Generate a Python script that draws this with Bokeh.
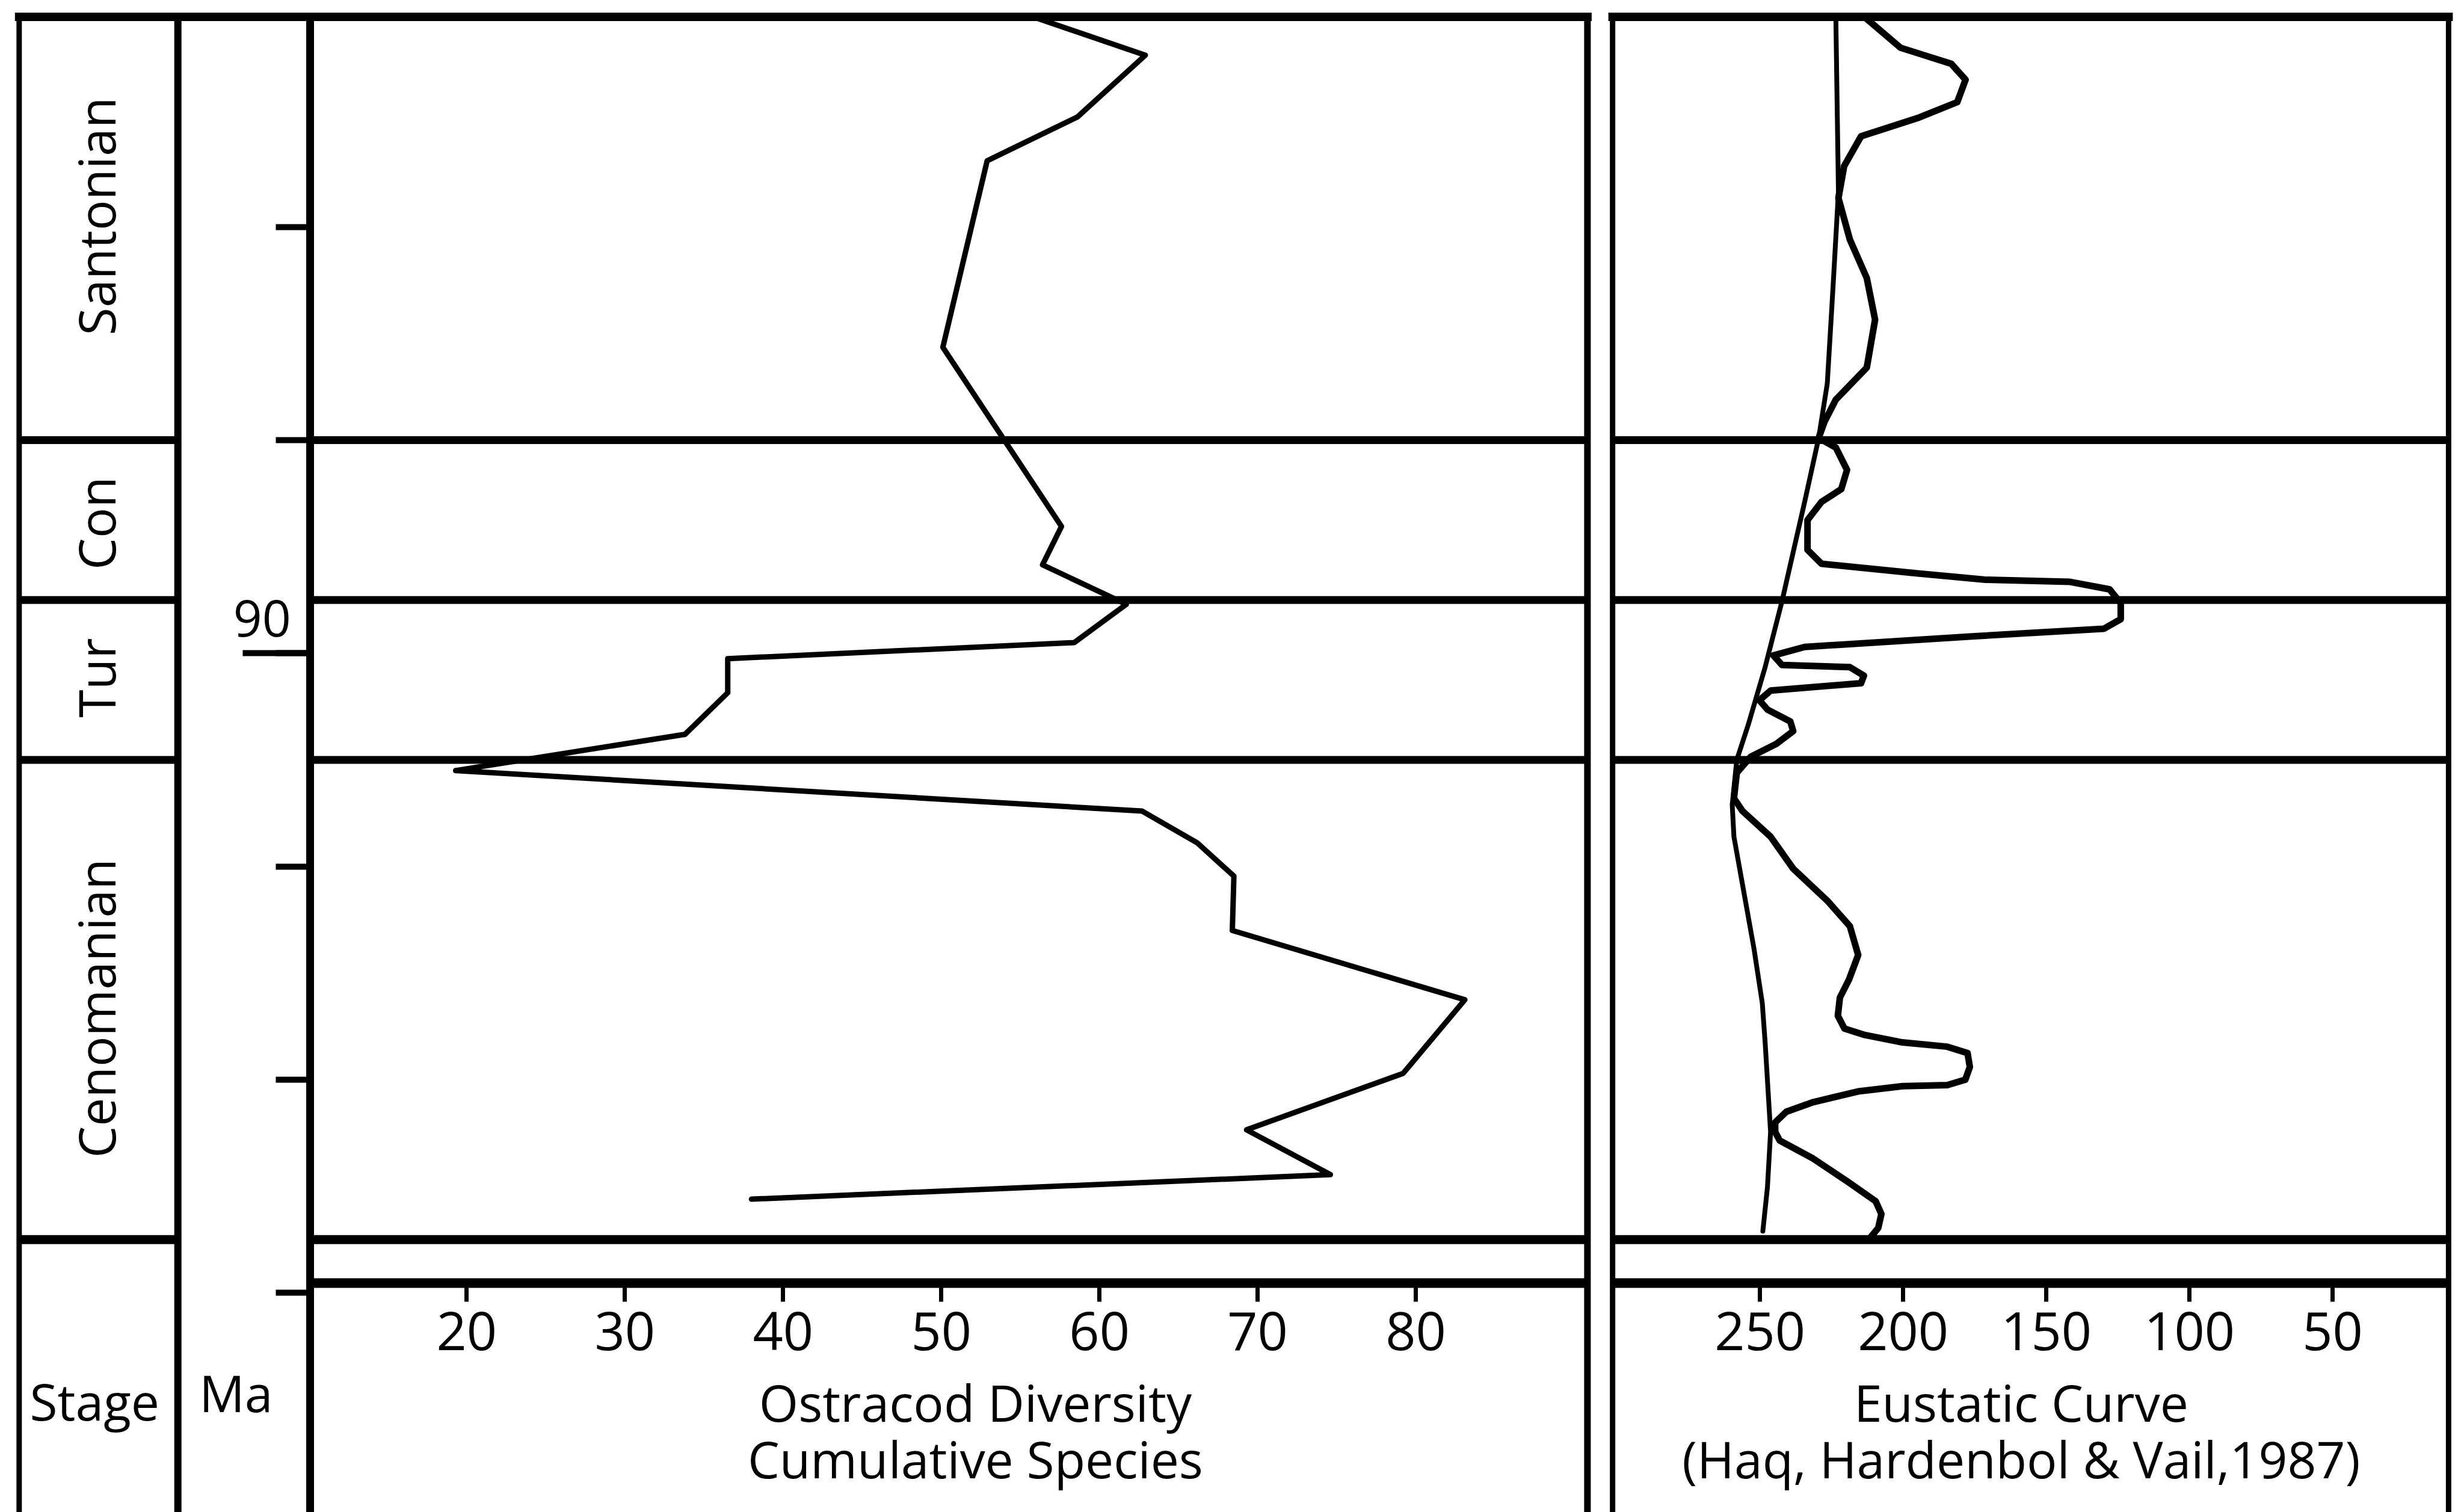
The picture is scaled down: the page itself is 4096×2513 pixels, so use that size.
import math
from bokeh.plotting import figure
from bokeh.models import Range1d, LinearAxis, FixedTicker
from bokeh.core.properties import value
from bokeh.embed import file_html
from bokeh.resources import INLINE

# ---------------- data ----------------
stages = ["Santonian", "Con", "Tur", "Cenomanian"]
stage_top_ma = [84.03, 88.0, 89.5, 91.0]
stage_base_ma = [88.0, 89.5, 91.0, 95.5]
stage_label_ma = [85.9, 88.78, 90.23, 93.33]

ma_ticks = [86, 88, 90, 92, 94, 96]
ma_label = 90

div_ticks = [20, 30, 40, 50, 60, 70, 80]
eus_ticks = [250, 200, 150, 100, 50]

div_ma = [84.03, 84.39, 84.97, 85.38, 87.13, 88.81, 89.17, 89.54, 89.90, 90.05,
          90.37, 90.76, 91.10, 91.48, 91.78, 92.09, 92.60, 93.25, 93.94, 94.47,
          94.89, 95.12]
div_species = [55.8, 62.9, 58.6, 52.9, 50.1, 57.6, 56.4, 61.7, 58.4, 36.5,
               36.5, 33.8, 19.3, 62.7, 66.2, 68.5, 68.4, 83.1, 79.2, 69.3,
               74.6, 38.0]

eus_long_ma = [84.05, 85.67, 86.57, 87.47, 87.98, 88.58, 89.51, 90.13, 90.67, 91.00,
               91.42, 91.72, 92.17, 92.77, 93.28, 93.65, 94.49, 95.01, 95.42]
eus_long_m = [223.5, 222.6, 224.5, 226.5, 229.5, 234.4, 242.3, 248.2, 254.1, 258.1,
              259.7, 259.1, 256.1, 252.1, 249.2, 248.2, 246.3, 247.4, 249.0]

eus_short_ma = [84.05, 84.32, 84.47, 84.62, 84.83, 84.98, 85.15, 85.43, 85.73, 86.12,
                86.48, 86.87, 87.32, 87.62, 87.83, 87.98, 88.07, 88.28, 88.46, 88.58,
                88.75, 89.03, 89.16, 89.25, 89.31, 89.33, 89.40, 89.53, 89.68, 89.77,
                89.84, 89.94, 90.02, 90.11, 90.13, 90.21, 90.28, 90.35, 90.44, 90.53,
                90.64, 90.73, 90.85, 90.97, 91.12, 91.36, 91.48, 91.72, 92.02, 92.32,
                92.56, 92.83, 93.06, 93.23, 93.40, 93.52, 93.58, 93.65, 93.69, 93.75,
                93.88, 94.00, 94.05, 94.06, 94.11, 94.21, 94.30, 94.40, 94.49, 94.57,
                94.74, 94.95, 95.14, 95.26, 95.39, 95.47]
eus_short_m = [212.7, 200.9, 183.2, 178.2, 181.1, 195.0, 214.7, 220.6, 222.6, 218.6,
               212.7, 209.8, 212.7, 223.5, 227.5, 229.5, 223.5, 219.6, 221.6, 228.5,
               233.4, 233.4, 228.5, 195.0, 171.3, 141.7, 127.9, 124.0, 124.0, 129.9,
               175.2, 234.4, 245.3, 242.3, 218.6, 213.7, 214.7, 246.3, 250.2, 247.3,
               239.4, 238.4, 244.3, 253.2, 258.1, 259.1, 256.1, 246.3, 238.4, 226.5,
               218.6, 215.7, 218.9, 222.1, 222.8, 220.5, 213.4, 200.2, 184.6, 177.5,
               176.7, 178.3, 184.6, 200.2, 215.8, 231.4, 240.8, 244.7, 244.7, 243.1,
               231.4, 219.7, 209.6, 207.6, 208.7, 211.1]

div_title = ["Ostracod Diversity", "Cumulative Species"]
eus_title = ["Eustatic Curve", "(Haq, Hardenbol & Vail,1987)"]

# ---------------- layout ----------------
W, H = 4096, 2513
REF_W, REF_H = 1568.0, 962.0          # layout units
S = W / REF_W                          # px per layout unit

MA_Y0, MA_K = 483.3, 67.83             # layout y of 91 Ma, layout units per Ma
def ma_at(y):
    return 91 + (y - MA_Y0) / MA_K
MA_TOP, MA_BOT = ma_at(0), ma_at(REF_H)
MA_BORDER = ma_at(10.5)
MA_AXIS = ma_at(816)

DIV_X0, DIV_K = 598.8, 10.066          # layout x of 50 species, units per species
EUS_X0, EUS_K = 1302.0, 1.822          # layout x of 150 m, units per m (reversed)
def div_at(x):
    return 50 + (x - DIV_X0) / DIV_K
def eus_at(x):
    return 150 - (x - EUS_X0) / EUS_K

X_OUT, X_STAGE, X_MA = 12, 113, 197
X_DIV_R, X_EUS_L, X_EUS_R = 1010, 1026, 1558

TXT_SHIFT = 14.0                       # baseline correction, layout units

FONT = "Open Sans"
FS = "84px"
FS_TICK = "88px"
BLACK = "#000000"

p = figure(width=W, height=H, output_backend="svg", toolbar_location=None,
           x_range=Range1d(0, REF_W), y_range=Range1d(MA_BOT, MA_TOP),
           x_axis_location=None, y_axis_location=None, min_border=0, title=None)
p.extra_x_ranges = {"div": Range1d(div_at(0), div_at(REF_W)),
                    "eus": Range1d(eus_at(0), eus_at(REF_W))}
p.extra_y_ranges = {"lay": Range1d(REF_H, 0)}
p.outline_line_color = None
p.background_fill_color = "white"
p.border_fill_color = "white"
p.xgrid.visible = False
p.ygrid.visible = False

# vertical frame lines
vx = [X_OUT, X_STAGE, X_DIV_R, X_EUS_L, X_EUS_R]
vw = [9, 12, 11, 9, 9]
p.segment(x0=vx, y0=[MA_BORDER] * len(vx), x1=vx, y1=[MA_BOT + 1] * len(vx),
          line_color=BLACK, line_width=vw, line_cap="square")

# top borders
p.segment(x0=[X_OUT, X_EUS_L], y0=[MA_BORDER] * 2, x1=[X_DIV_R, X_EUS_R], y1=[MA_BORDER] * 2,
          line_color=BLACK, line_width=14, line_cap="square")

# stage boundaries across the three columns
for (a, b) in [(X_OUT, X_STAGE), (X_MA, X_DIV_R), (X_EUS_L, X_EUS_R)]:
    n = len(stage_base_ma)
    p.segment(x0=[a] * n, y0=stage_base_ma, x1=[b] * n, y1=stage_base_ma,
              line_color=BLACK, line_width=[13, 13, 13, 15])

# Ma axis (ticks only, the 90 label drawn above its tick)
ma_axis = LinearAxis(fixed_location=X_MA, ticker=FixedTicker(ticks=ma_ticks),
                     bounds=(MA_BORDER, MA_BOT + 1),
                     axis_line_width=13, axis_line_color=BLACK,
                     major_tick_out=round(22 * S), major_tick_in=0,
                     major_tick_line_width=10, major_tick_line_color=BLACK,
                     minor_tick_line_color=None,
                     major_label_overrides={t: "" for t in ma_ticks})
p.add_layout(ma_axis, "left")
ma_axis90 = LinearAxis(fixed_location=X_MA, ticker=FixedTicker(ticks=[ma_label]),
                       axis_line_color=None,
                       major_tick_out=round(43 * S), major_tick_in=0,
                       major_tick_line_width=10, major_tick_line_color=BLACK,
                       minor_tick_line_color=None,
                       major_label_overrides={ma_label: ""})
p.add_layout(ma_axis90, "left")
p.text(x=[185], y=[ma_label - (8.5 + TXT_SHIFT) / MA_K], text=[str(ma_label)],
       text_align="right", text_baseline="alphabetic",
       text_font=value(FONT), text_font_size=FS, text_color=BLACK)

# bottom axes
def bottom_axis(rng, ticks, bounds):
    ax = LinearAxis(x_range_name=rng, fixed_location=MA_AXIS,
                    ticker=FixedTicker(ticks=ticks), bounds=bounds,
                    axis_line_width=16, axis_line_color=BLACK,
                    major_tick_out=round(12 * S), major_tick_in=0,
                    major_tick_line_width=7, major_tick_line_color=BLACK,
                    minor_tick_line_color=None,
                    major_label_standoff=18,
                    major_label_text_font=FONT, major_label_text_font_size=FS_TICK,
                    major_label_text_color=BLACK)
    p.add_layout(ax, "below")
    return ax

bottom_axis("div", div_ticks, (div_at(X_MA), div_at(X_DIV_R)))
bottom_axis("eus", eus_ticks, (eus_at(X_EUS_R), eus_at(X_EUS_L)))

# data curves
p.line(x=div_species, y=div_ma, x_range_name="div", line_color=BLACK,
       line_width=9, line_join="round", line_cap="round")
p.line(x=eus_long_m, y=eus_long_ma, x_range_name="eus", line_color=BLACK,
       line_width=8, line_join="round", line_cap="round")
p.line(x=eus_short_m, y=eus_short_ma, x_range_name="eus", line_color=BLACK,
       line_width=11, line_join="round", line_cap="round")

# stage names (rotated)
p.text(x=[75 - TXT_SHIFT] * len(stages), y=stage_label_ma, text=stages, angle=math.pi / 2,
       text_align="center", text_baseline="alphabetic",
       text_font=value(FONT), text_font_size=FS, text_color=BLACK)

# column headers and panel titles (layout units)
p.text(x=[60, 150], y=[905 - TXT_SHIFT, 900 - TXT_SHIFT], text=["Stage", "Ma"],
       y_range_name="lay", text_align="center", text_baseline="alphabetic",
       text_font=value(FONT), text_font_size=FS, text_color=BLACK)
p.text(x=[620.5, 620.5], y=[906 - TXT_SHIFT, 942 - TXT_SHIFT], text=div_title,
       y_range_name="lay", text_align="center", text_baseline="alphabetic",
       text_font=value(FONT), text_font_size=FS, text_color=BLACK)
p.text(x=[1286, 1286], y=[906 - TXT_SHIFT, 942 - TXT_SHIFT], text=eus_title,
       y_range_name="lay", text_align="center", text_baseline="alphabetic",
       text_font=value(FONT), text_font_size=FS, text_color=BLACK)

open("out.html", "w").write(file_html(p, INLINE))
